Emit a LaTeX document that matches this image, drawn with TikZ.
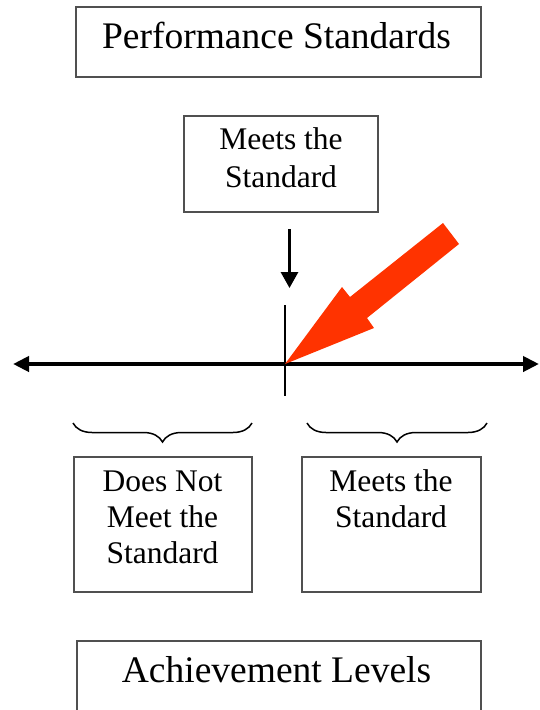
\documentclass[tikz,border=0pt]{standalone}
\usepackage{fontspec}
\setmainfont{Liberation Serif}
\usetikzlibrary{arrows.meta,decorations.pathreplacing}
\definecolor{boxline}{RGB}{80,80,80}
\definecolor{pointer}{RGB}{255,51,0}
\begin{document}
\begin{tikzpicture}[x=1pt,y=-1pt,
  framebox/.style={draw=boxline, line width=1.3pt, inner sep=0pt},
  bigtext/.style={anchor=base, inner sep=0pt, align=center,
    font=\fontsize{37.5}{45}\selectfont},
  smalltext/.style={anchor=base, inner sep=0pt, align=center,
    font=\fontsize{31.5}{36}\selectfont},
  bracket/.style={decorate, line width=1.5pt,
    decoration={brace, amplitude=19pt, mirror}}]
\useasboundingbox (0,0) rectangle (539,710);

% boxes
\node[framebox, minimum width=405pt, minimum height=70pt] (ps) at (278.5,42) {};
\node[framebox, minimum width=194pt, minimum height=96pt] (mt) at (281,164) {};
\node[framebox, minimum width=178pt, minimum height=135pt] (dn) at (163,524.5) {};
\node[framebox, minimum width=179pt, minimum height=135pt] (ms) at (391.5,524.5) {};
\node[framebox, minimum width=404pt, minimum height=74pt] (al) at (279,678) {};

% texts (base anchor sits on the last line)
\node[bigtext] (pstext) at (276.5,48) {Performance Standards};
\node[smalltext, font=\fontsize{31.5}{38}\selectfont] (mttext) at (281,187) {Meets the\\Standard};
\node[smalltext] (dntext) at (162.5,563) {Does Not\\Meet the\\Standard};
\node[smalltext] (mstext) at (391,527) {Meets the\\Standard};
\node[bigtext] (altext) at (276.5,682) {Achievement Levels};

% number line with the cut point
\coordinate (lend) at (13,364);
\coordinate (rend) at (539,364);
\coordinate (cut) at (285,364);
\coordinate (ttop) at (285,305);
\coordinate (tbot) at (285,396);
\draw[line width=4pt, {Triangle[length=16pt,width=15pt]}-{Triangle[length=16pt,width=15pt]}] (lend) -- (rend);
\draw[line width=2pt] (ttop) -- (tbot);

% small pointer from the standard
\coordinate (astart) at (289.5,229);
\coordinate (aend) at (289.5,288);
\draw[line width=3pt, -{Triangle[length=16pt,width=17pt]}] (astart) -- (aend);

% big red pointer
\fill[pointer] (cut) -- (342,287) -- (350,297) -- (443,223) -- (459,244)
  -- (367,318) -- (374,328) -- cycle;

% braces
\draw[bracket] (73,423) -- (252,423);
\draw[bracket] (307,423) -- (487,423);
\end{tikzpicture}
\end{document}
